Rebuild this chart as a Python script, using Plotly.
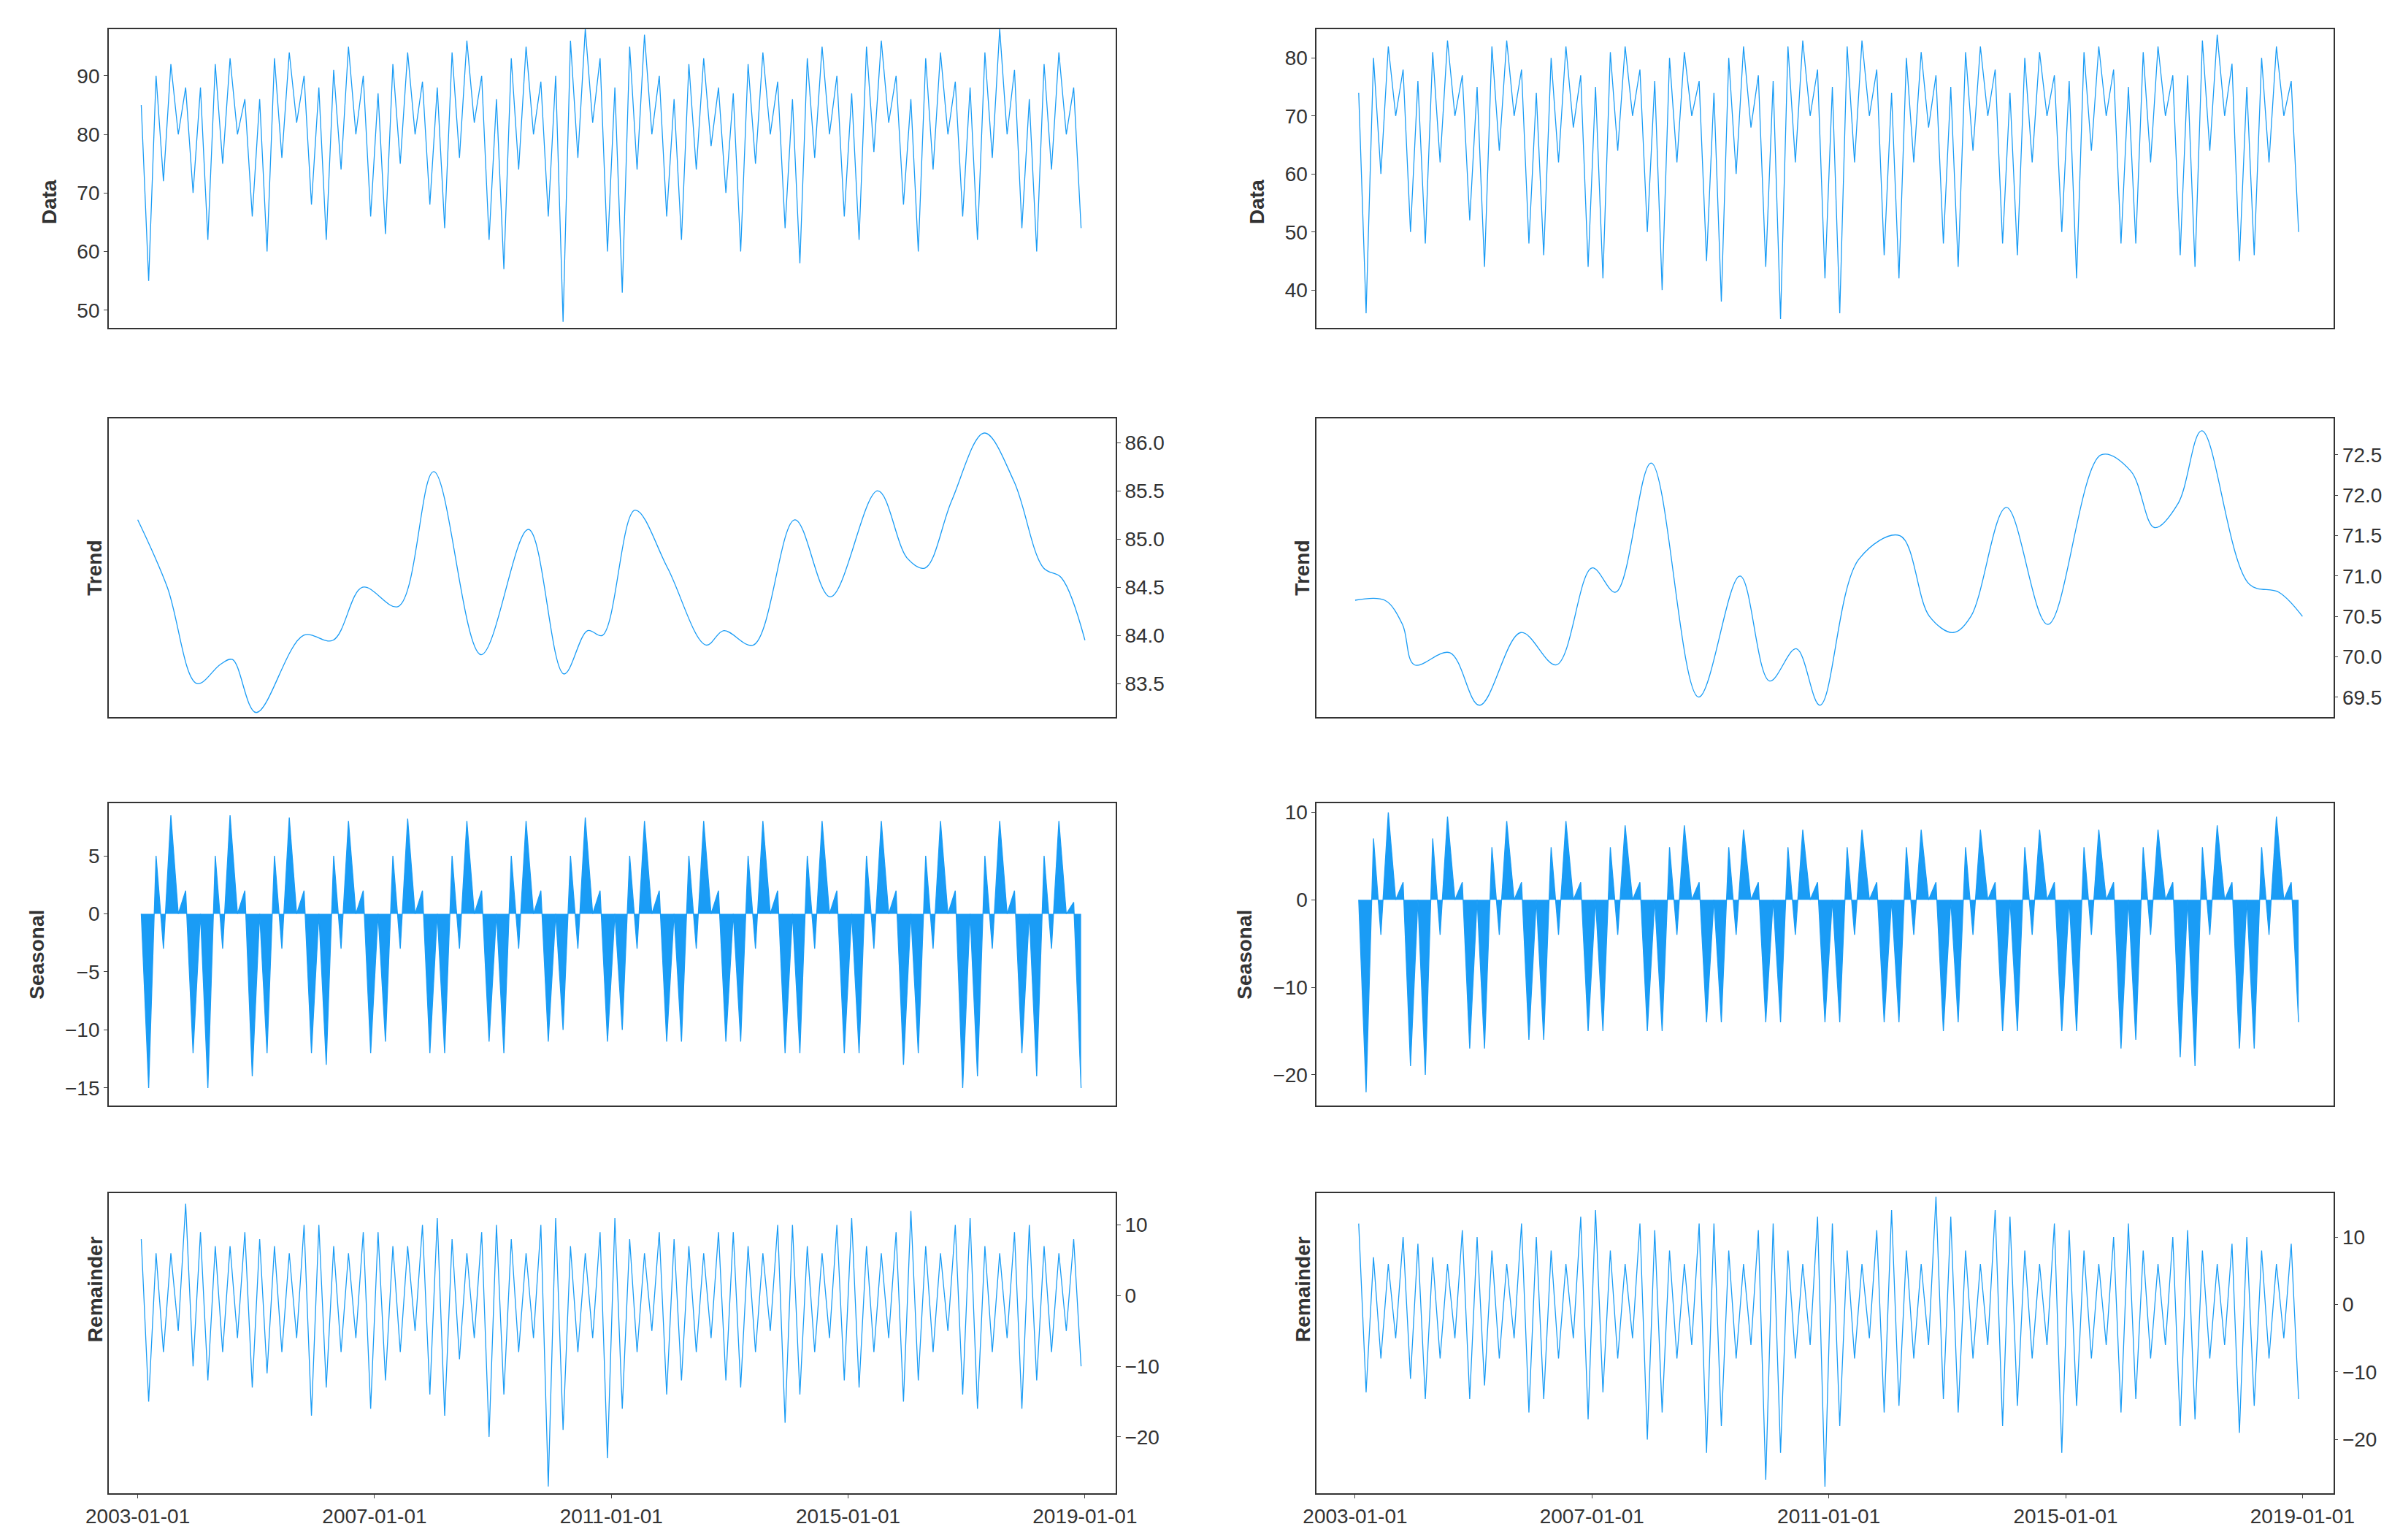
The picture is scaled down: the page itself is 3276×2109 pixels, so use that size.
import pandas as pd
import plotly.graph_objects as go

years = list(range(2003, 2019))
# quarterly upper / lower envelopes (Q1..Q4 per year)
L_data_hi = [85,90,92,88, 88,92,93,86, 86,93,94,90, 88,91,95,90, 87,92,94,89, 88,94,96,90, 86,93,95,89, 90,96,98,93,
             88,95,97,90, 86,92,93,88, 87,92,94,89, 86,93,95,90, 87,95,96,90, 86,93,94,89, 88,94,98,91, 86,92,94,88]
L_data_lo = [55,72,80,70, 62,75,80,66, 60,76,82,68, 62,74,80,66, 63,75,80,68, 64,76,82,62, 57,74,80,66, 48,76,82,60,
             53,74,80,66, 62,74,78,70, 60,75,80,64, 58,76,80,66, 62,77,82,68, 60,74,80,66, 62,76,80,64, 60,74,80,64]
R_data_hi = [74,80,82,78, 76,81,83,77, 75,82,83,78, 74,80,82,77, 75,81,82,78, 76,80,81,76, 74,80,82,77, 76,82,83,78,
             75,82,83,78, 74,80,81,77, 75,81,82,78, 74,80,81,77, 76,81,82,78, 75,81,82,77, 77,83,84,79, 75,80,82,76]
R_data_lo = [36,60,70,50, 48,62,70,52, 44,64,70,48, 46,62,68,44, 42,64,70,50, 40,62,70,45, 38,60,68,44, 35,62,70,42,
             36,62,70,46, 42,62,68,48, 44,64,70,48, 46,62,70,50, 42,64,70,48, 48,62,70,46, 44,64,70,45, 46,62,70,50]
L_seas_hi = [0,5,8.5,2, 0,5,8.5,2, 0,5,8.3,2, 0,5,8,2, 0,5,8.2,2, 0,5,8,2, 0,5,8,2, 0,5,8.3,2,
             0,5,8,2, 0,5,8,2, 0,5,8,2, 0,5,8,2, 0,5,8,2, 0,5,8,2, 0,5,8,2, 0,5,8,1]
L_seas_lo = [-15,-3,0,-12, -15,-3,0,-14, -12,-3,0,-12, -13,-3,0,-12, -11,-3,0,-12, -12,-3,0,-11, -12,-3,0,-11, -10,-3,0,-11,
             -10,-3,0,-11, -11,-3,0,-11, -11,-3,0,-12, -12,-3,0,-12, -12,-3,0,-13, -12,-3,0,-15, -14,-3,0,-12, -14,-3,0,-15]
R_seas_hi = [0,7,10,2, 0,7,9.5,2, 0,6,9,2, 0,6,9,2, 0,6,8.5,2, 0,6,8.5,2, 0,6,8,2, 0,6,8,2,
             0,6,8,2, 0,6,8,2, 0,6,8,2, 0,6,8,2, 0,6,8,2, 0,6,8,2, 0,6,8.5,2, 0,6,9.5,2]
R_seas_lo = [-22,-4,0,-19, -20,-4,0,-17, -17,-4,0,-16, -16,-4,0,-15, -15,-4,0,-15, -15,-4,0,-14, -14,-4,0,-14, -14,-4,0,-14,
             -14,-4,0,-14, -14,-4,0,-15, -14,-4,0,-15, -15,-4,0,-15, -15,-4,0,-17, -16,-4,0,-18, -19,-4,0,-17, -17,-4,0,-14]
L_rem_hi = [8,6,6,13, 9,7,7,9, 8,7,6,10, 10,7,6,9, 9,7,7,10, 11,8,6,9, 10,8,6,10, 11,7,6,9,
            11,8,6,9, 8,7,6,9, 9,7,6,10, 10,7,6,10, 11,7,6,9, 12,7,6,10, 11,7,6,9, 10,7,6,8]
L_rem_lo = [-15,-8,-5,-10, -12,-8,-6,-13, -11,-8,-6,-17, -13,-8,-6,-16, -12,-8,-5,-14, -17,-9,-6,-20, -14,-8,-6,-27, -19,-8,-6,-23,
            -16,-8,-5,-14, -12,-8,-6,-12, -13,-8,-5,-18, -14,-8,-6,-12, -13,-8,-6,-15, -12,-8,-5,-14, -16,-8,-6,-16, -12,-8,-5,-10]
R_rem_hi = [12,7,6,10, 9,7,6,11, 10,8,6,12, 10,8,6,13, 14,8,6,12, 11,8,6,12, 12,8,6,11, 12,8,6,13,
            12,8,6,11, 14,8,6,16, 13,8,6,14, 13,8,6,12, 11,8,6,10, 12,8,6,10, 11,8,6,9, 10,8,6,9]
R_rem_lo = [-13,-8,-5,-11, -14,-8,-5,-14, -12,-8,-5,-16, -14,-8,-5,-17, -13,-8,-5,-20, -16,-8,-6,-22, -18,-8,-6,-26, -22,-8,-6,-27,
            -18,-8,-5,-16, -15,-8,-6,-14, -16,-8,-6,-18, -15,-8,-6,-22, -15,-8,-6,-16, -14,-8,-6,-18, -17,-8,-6,-19, -15,-8,-5,-14]
L_trend_t = [2003.0,2003.5,2004.0,2004.4,2004.6,2005.0,2005.8,2006.3,2006.8,2007.4,2008.0,2008.8,2009.6,2010.2,2010.6,2010.85,
             2011.4,2011.95,2012.6,2012.9,2013.4,2014.1,2014.7,2015.5,2016.0,2016.3,2016.75,2017.3,2017.8,2018.3,2018.6,2019.0]
L_trend_v = [85.2,84.5,83.5,83.7,83.75,83.2,84.0,83.95,84.5,84.3,85.7,83.8,85.1,83.6,84.05,84.0,
             85.3,84.7,83.9,84.05,83.9,85.2,84.4,85.5,84.8,84.7,85.4,86.1,85.6,84.7,84.6,83.95]
R_trend_t = [2003.0,2003.5,2003.8,2004.0,2004.6,2005.1,2005.8,2006.4,2007.0,2007.4,2008.0,2008.8,2009.5,2010.0,2010.45,2010.85,
             2011.5,2012.2,2012.7,2013.1,2013.4,2014.0,2014.7,2015.6,2016.1,2016.5,2016.9,2017.3,2018.1,2018.6,2019.0]
R_trend_v = [70.7,70.7,70.4,69.9,70.05,69.4,70.3,69.9,71.1,70.8,72.4,69.5,71.0,69.7,70.1,69.4,
             71.2,71.5,70.5,70.3,70.5,71.85,70.4,72.5,72.3,71.6,71.9,72.8,70.9,70.8,70.5]
tick_labels = ["2003-01-01", "2007-01-01", "2011-01-01", "2015-01-01", "2019-01-01"]

BLUE = "#1a9cf5"
base = pd.Timestamp("2003-01-01")
def dt(t):
    return [base + pd.Timedelta(days=(v - 2003) * 365.25) for v in t]

def zig(hi, lo):
    xs, ys = [], []
    for i in range(len(hi)):
        t0 = 2003 + i * 0.25
        xs += [t0 + 0.06, t0 + 0.185]
        ys += [hi[i], lo[i]]
    return dt(xs), ys

fig = go.Figure()
rows = [(0.791, 0.985), (0.538, 0.732), (0.286, 0.482), (0.034, 0.229)]
cols = [((0.043, 0.464), (2002.51, 2019.52)), ((0.548, 0.973), (2002.35, 2019.52))]
# (title, xy, y range, tick side, fill, dtick, tickformat)
series = [
    [("Data", zig(L_data_hi, L_data_lo), [47, 98], "left", False, 10, ""),
     ("Trend", (dt(L_trend_t), L_trend_v), [83.15, 86.25], "right", False, 0.5, ".1f"),
     ("Seasonal", zig(L_seas_hi, L_seas_lo), [-16.5, 9.5], "left", True, 5, ""),
     ("Remainder", zig(L_rem_hi, L_rem_lo), [-28, 14.5], "right", False, 10, "")],
    [("Data", zig(R_data_hi, R_data_lo), [33.5, 85], "left", False, 10, ""),
     ("Trend", (dt(R_trend_t), R_trend_v), [69.25, 72.95], "right", False, 0.5, ".1f"),
     ("Seasonal", zig(R_seas_hi, R_seas_lo), [-23.5, 11], "left", True, 10, ""),
     ("Remainder", zig(R_rem_hi, R_rem_lo), [-28, 16.5], "right", False, 10, "")],
]
ytitle_x = [[20, 50, 12, 50], [820, 850, 812, 850]]
tickfont = dict(family="Liberation Sans", size=28, color="#333")
n = 0
for c, ((x0, x1), (r0, r1)) in enumerate(cols):
    for r, (name, (xs, ys), yr, side, fill, dtick, fmt) in enumerate(series[c]):
        n += 1
        xa = "x" if n == 1 else f"x{n}"
        ya = "y" if n == 1 else f"y{n}"
        fig.add_trace(go.Scatter(x=xs, y=ys, mode="lines", xaxis=xa, yaxis=ya,
                                 line=dict(color=BLUE, width=1.3,
                                           shape="spline" if name == "Trend" else "linear"),
                                 fill="tozeroy" if fill else None, fillcolor=BLUE,
                                 showlegend=False))
        y0, y1 = rows[r]
        fig.layout[("xaxis" if n == 1 else f"xaxis{n}")] = dict(
            domain=[x0, x1], anchor=ya, range=dt([r0, r1]), showgrid=False, zeroline=False,
            showline=True, mirror=True, linecolor="#333", linewidth=1.5, automargin=False,
            tickvals=pd.to_datetime(tick_labels), ticktext=tick_labels,
            showticklabels=(r == 3), ticks="outside" if r == 3 else "", tickfont=tickfont)
        fig.layout[("yaxis" if n == 1 else f"yaxis{n}")] = dict(
            domain=[y0, y1], anchor=xa, range=yr, side=side, showgrid=False, zeroline=False,
            showline=True, mirror=True, linecolor="#333", linewidth=1.5, ticks="outside",
            dtick=dtick, tickformat=fmt, tickfont=tickfont, automargin=False)
        fig.add_annotation(text=f"<b>{name}</b>", x=ytitle_x[c][r] / 1568, y=(y0 + y1) / 2,
                           xref="paper", yref="paper", textangle=-90, showarrow=False,
                           font=dict(family="Liberation Sans", size=28, color="#333"))

fig.update_layout(width=3276, height=2109, margin=dict(l=0, r=0, t=0, b=0, autoexpand=False),
                  plot_bgcolor="white", paper_bgcolor="white")
fig.write_html("out.html")
